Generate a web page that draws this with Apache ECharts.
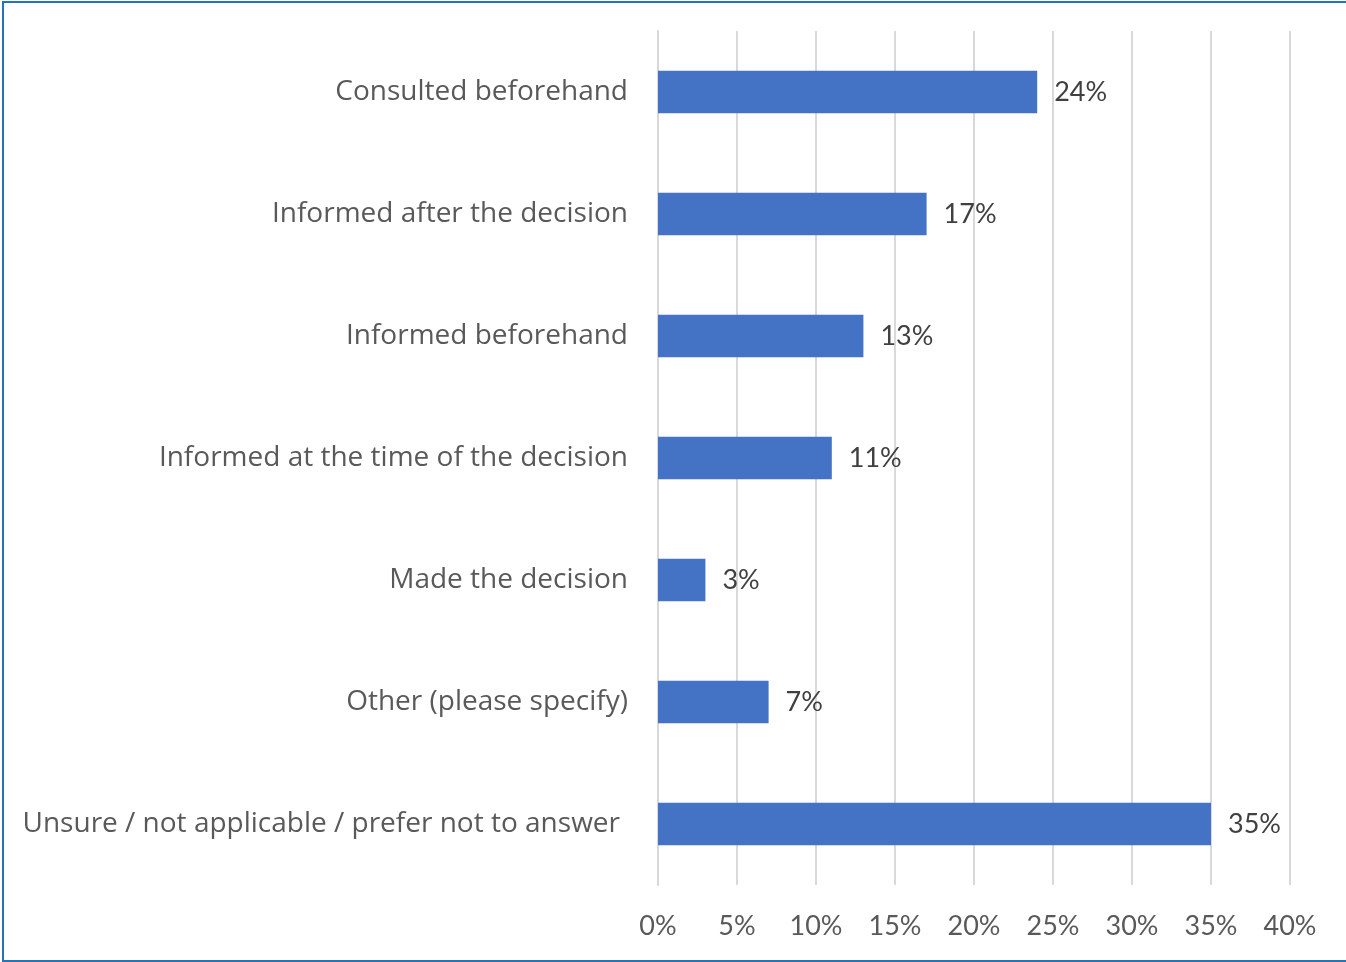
<!DOCTYPE html>
<html><head><meta charset="utf-8">
<script src="https://cdn.jsdelivr.net/npm/echarts@6/dist/echarts.min.js"></script>
<style>
html,body{margin:0;padding:0;background:#fff;overflow:hidden}
#frame{position:absolute;left:2px;top:1px;width:1360px;height:961px;border:2px solid #2474B8;box-sizing:border-box}
#chart{position:absolute;left:0;top:0;width:1346px;height:962px}
</style></head>
<body>
<div id="frame"></div>
<div id="chart"></div>
<script>
const categories = [
  "Consulted beforehand",
  "Informed after the decision",
  "Informed beforehand",
  "Informed at the time of the decision",
  "Made the decision",
  "Other (please specify)",
  "Unsure / not applicable / prefer not to answer"
];
const values = [24, 17, 13, 11, 3, 7, 35];
const tickLabels = ["0%","5%","10%","15%","20%","25%","30%","35%","40%"];

const font = "Lato, 'Open Sans', sans-serif";
const catFont = "'Open Sans', sans-serif";
const chart = echarts.init(document.getElementById('chart'));
chart.setOption({
  animation: false,
  grid: {left: 658, right: 56, top: 31, bottom: 77, containLabel: false},
  xAxis: {
    type: 'value', min: 0, max: 40, interval: 5,
    axisLine: {show: false}, axisTick: {show: false},
    splitLine: {show: true, lineStyle: {color: '#D9D9D9', width: 2}},
    axisLabel: {
      color: '#595959', fontSize: 27, fontFamily: font, margin: 28,
      formatter: (v) => tickLabels[Math.round(v / 5)]
    }
  },
  yAxis: {
    type: 'category', inverse: true,
    data: categories.map((c, i) => i === categories.length - 1
      ? {value: c, textStyle: {padding: [8, 8, 0, 0]}} : c),
    axisLine: {show: true, lineStyle: {color: '#D9D9D9', width: 2}},
    axisTick: {show: false},
    axisLabel: {color: '#595959', fontSize: 28, fontFamily: catFont, margin: 30, padding: [8, 0, 0, 0]}
  },
  series: [{
    type: 'bar', data: values, barCategoryGap: '65%',
    itemStyle: {color: '#4472C4'},
    label: {
      show: true, position: 'right', distance: 17, padding: [4, 0, 0, 0],
      color: '#404040', fontSize: 27, fontFamily: font,
      formatter: (p) => p.value + '%'
    }
  }]
});
</script>
</body></html>
